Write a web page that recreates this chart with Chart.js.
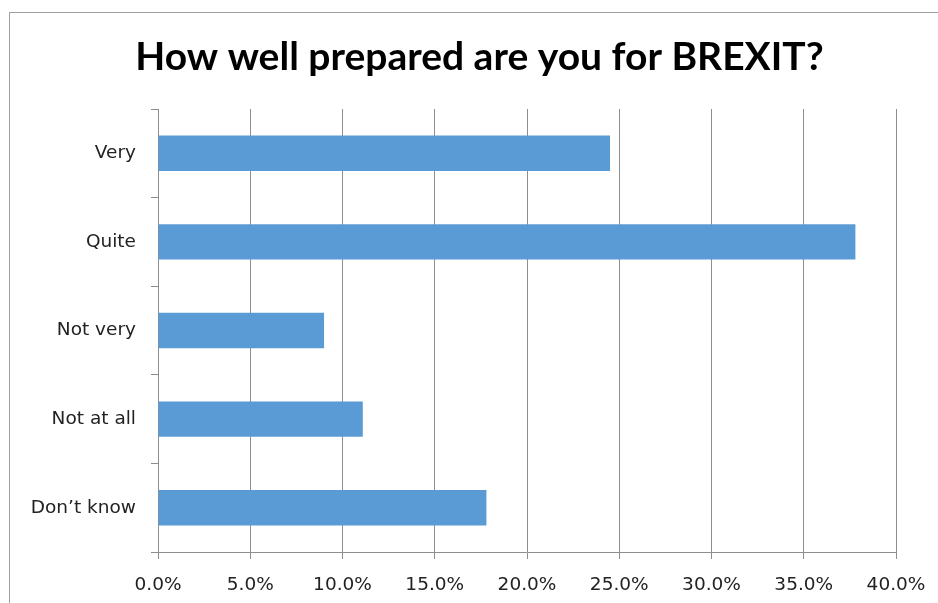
<!DOCTYPE html>
<html>
<head>
<meta charset="utf-8">
<title>BREXIT preparedness</title>
<script src="https://cdn.jsdelivr.net/npm/chart.js@4"></script>
<style>
  html, body { margin: 0; padding: 0; overflow: hidden; background: #fff; }
  #wrap { position: relative; width: 938px; height: 603px; }
  #frame {
    position: absolute; left: 9px; top: 12px; width: 1000px; height: 700px;
    border: 1px solid #a0a0a0; pointer-events: none;
  }
</style>
</head>
<body>
<div id="wrap">
  <canvas id="prepChart" width="938" height="603"></canvas>
  <div id="frame"></div>
</div>
<script>
const answers = ['Very', 'Quite', 'Not very', 'Not at all', 'Don’t know'];
const shares = [24.5, 37.8, 9.0, 11.1, 17.8]; // percent of respondents
const xTicks = [0, 5, 10, 15, 20, 25, 30, 35, 40];
const chartTitle = 'How well prepared are you for BREXIT?';

const gridGrey = '#8e8e8e';
const labelFont = { family: 'DejaVu Sans', size: 18.5 };

// title is centred on the framed box, not on the canvas, so draw it by hand
const boxTitle = {
  id: 'boxTitle',
  afterDraw(chart) {
    const c = chart.ctx;
    c.save();
    c.font = 'bold 39px Lato';
    c.fillStyle = '#000';
    c.textAlign = 'center';
    c.textBaseline = 'alphabetic';
    c.fillText(chartTitle, 479.5, 70);
    c.restore();
  },
};

const ctx = document.getElementById('prepChart').getContext('2d');

new Chart(ctx, {
  type: 'bar',
  data: {
    labels: answers,
    datasets: [{
      data: shares,
      backgroundColor: '#5b9bd5',
      borderWidth: 0,
      categoryPercentage: 1,
      barPercentage: 0.4,
    }],
  },
  options: {
    indexAxis: 'y',
    responsive: false,
    animation: false,
    layout: { padding: { left: 0, right: 42, top: 109, bottom: 0 } },
    plugins: {
      legend: { display: false },
      tooltip: { enabled: false },
      title: { display: false },
    },
    scales: {
      x: {
        min: 0,
        max: 40,
        afterFit: (scale) => {
          scale.height = 51;
          scale.paddingLeft = 0;
          scale.paddingRight = 0;
        },
        afterBuildTicks: (scale) => { scale.ticks = xTicks.map(v => ({ value: v })); },
        grid: { color: gridGrey, lineWidth: 1, tickLength: 7, drawTicks: true },
        border: { color: gridGrey, width: 1 },
        ticks: {
          color: '#222',
          font: labelFont,
          padding: 15,
          maxRotation: 0,
          callback: (v) => v.toFixed(1) + '%',
        },
      },
      y: {
        afterFit: (scale) => { scale.width = 158; },
        grid: { offset: true, drawOnChartArea: false, color: gridGrey, tickLength: 7 },
        border: { color: gridGrey, width: 1 },
        ticks: { color: '#222', font: labelFont, padding: 15 },
      },
    },
  },
  plugins: [boxTitle],
});
</script>
</body>
</html>
